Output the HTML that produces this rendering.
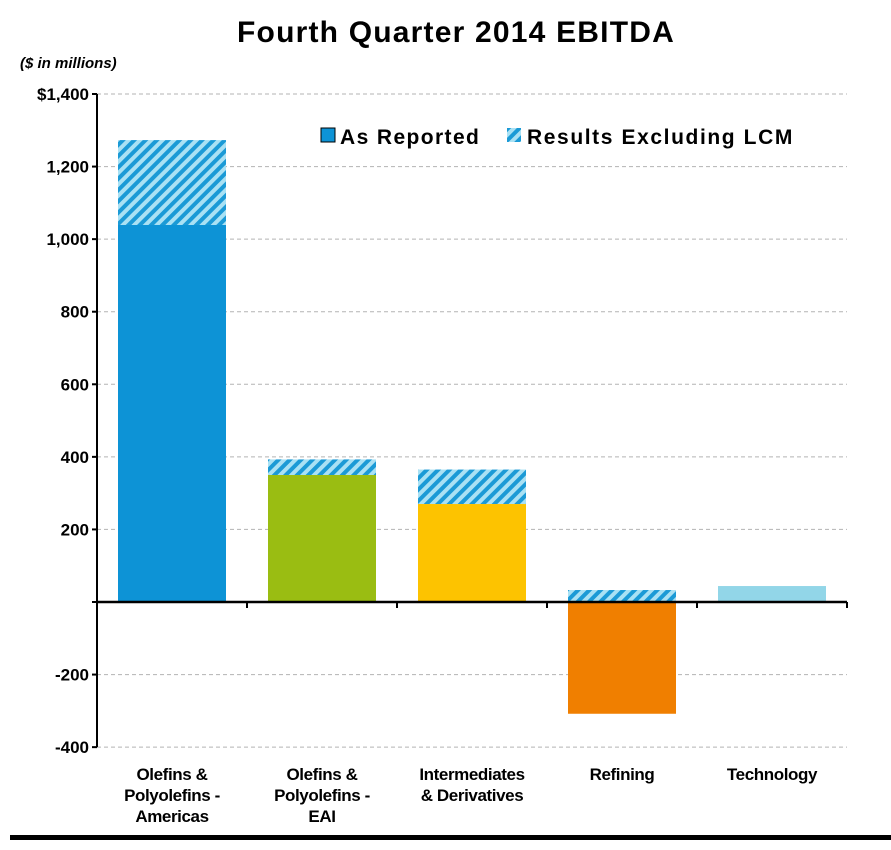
<!DOCTYPE html>
<html><head><meta charset="utf-8"><style>
body{margin:0;background:#fff;}
svg text{font-family:"Liberation Sans",Arial,sans-serif;font-weight:bold;fill:#000;}
</style></head><body>
<svg id="chart" width="891" height="845" viewBox="0 0 891 845">
<defs>
<pattern id="hatch" patternUnits="userSpaceOnUse" width="8" height="8" patternTransform="rotate(45)">
<rect width="8" height="8" fill="#a9e1f4"/><rect width="4" height="8" fill="#1b9ad6"/>
</pattern>
</defs>
<text x="456" y="42" text-anchor="middle" font-size="30" letter-spacing="1.2">Fourth Quarter 2014 EBITDA</text>
<text x="20" y="68" font-size="15" font-style="italic">($ in millions)</text>
<g id="grid"></g>
<g id="bars"></g>
<g id="axes"></g>
<g>
<rect x="321" y="128" width="14" height="14" fill="#0d93d6" stroke="#000" stroke-width="1"/>
<text x="340" y="144" font-size="21" letter-spacing="1.4">As Reported</text>
<rect x="507" y="128" width="14" height="14" fill="url(#hatch)"/>
<text x="527" y="144" font-size="21" letter-spacing="1.6">Results Excluding LCM</text>
</g>
<rect x="10" y="835" width="881" height="5" fill="#000"/>
</svg>
<script>
const categories=[["Olefins &","Polyolefins -","Americas"],["Olefins &","Polyolefins -","EAI"],["Intermediates","& Derivatives"],["Refining"],["Technology"]];
const reported=[1039,350,270,-308,44];
const excludingLcm=[1273,393,365,33,44];
const barColors=["#0d93d6","#9abd12","#fdc300","#f07f00","#92d6e8"];
const yTicks=[1400,1200,1000,800,600,400,200,0,-200,-400];
const yTickLabels=["$1,400","1,200","1,000","800","600","400","200","","-200","-400"];

const NS="http://www.w3.org/2000/svg";
const x0=97,catW=150,barW=108,xEnd=847;
function y(v){return 602-v*(508/1400);}
function cx(i){return x0+catW*i+catW/2;}
function mk(tag,attrs,parent){const e=document.createElementNS(NS,tag);for(const k in attrs)e.setAttribute(k,attrs[k]);parent.appendChild(e);return e;}
const grid=document.getElementById('grid'),bars=document.getElementById('bars'),axes=document.getElementById('axes');
yTicks.forEach((t,i)=>{
  if(t!==0){const g=mk('line',{x1:x0,x2:xEnd,y1:y(t),y2:y(t),stroke:'#b3b3b3','stroke-width':1,'stroke-dasharray':'4,3'},grid);
  
  }
  const tk=mk('line',{x1:x0-5,x2:x0,y1:y(t),y2:y(t),stroke:'#000','stroke-width':2},axes);
  
  
  if(yTickLabels[i]){const tl=mk('text',{x:x0-8,y:y(t)+6,'text-anchor':'end','font-size':17},axes);tl.textContent=yTickLabels[i];
  
  }
});
categories.forEach((c,i)=>{
  const left=cx(i)-barW/2;
  const r=reported[i],e=excludingLcm[i];
  if(e!==r){
    const bot=r>0?r:0;
    const h=mk('rect',{x:left,y:y(e),width:barW,height:Math.abs(y(bot)-y(e)),fill:'url(#hatch)'},bars);
    
    
  }
  const b=mk('rect',{x:left,y:Math.min(y(r),y(0)),width:barW,height:Math.abs(y(r)-y(0)),fill:barColors[i]},bars);
  
  
  c.forEach((ln,j)=>{const t=mk('text',{x:cx(i),y:780+j*21,'text-anchor':'middle','font-size':17,'letter-spacing':'-0.4'},axes);t.textContent=ln;
    
    });
});
const ya=mk('line',{x1:x0,x2:x0,y1:y(1400),y2:y(-400),stroke:'#000','stroke-width':2},axes);


const xa=mk('line',{x1:x0,x2:xEnd,y1:y(0),y2:y(0),stroke:'#000','stroke-width':2.5},axes);


for(let i=0;i<=categories.length;i++){const t=mk('line',{x1:x0+catW*i,x2:x0+catW*i,y1:y(0),y2:y(0)+6,stroke:'#000','stroke-width':2},axes);
  
  }
</script>
</body></html>
